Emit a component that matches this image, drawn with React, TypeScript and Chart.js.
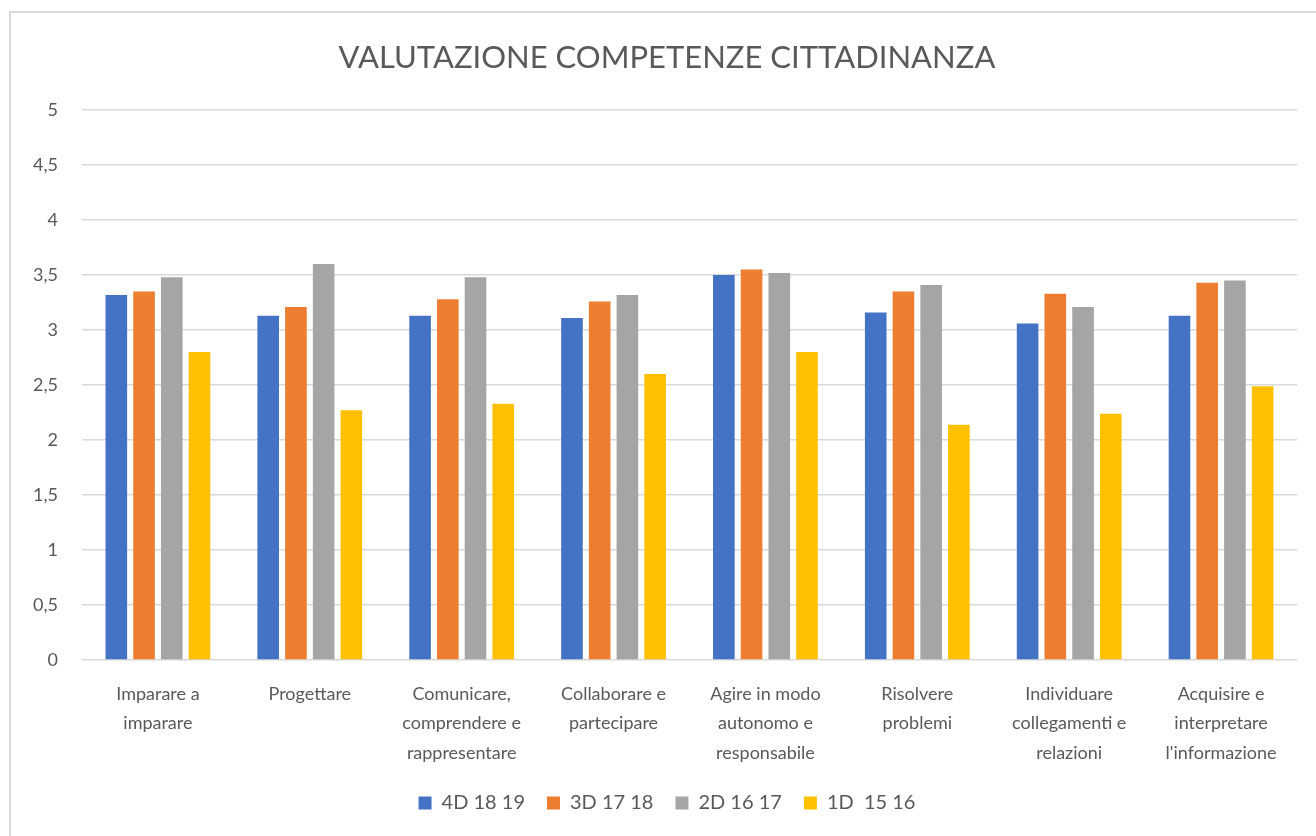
import React, { useEffect, useRef } from "react";
import { Chart, registerables } from "chart.js";

Chart.register(...registerables);

const categories: string[][] = [
  ["Imparare a", "imparare"],
  ["Progettare"],
  ["Comunicare,", "comprendere e", "rappresentare"],
  ["Collaborare e", "partecipare"],
  ["Agire in modo", "autonomo e", "responsabile"],
  ["Risolvere", "problemi"],
  ["Individuare", "collegamenti e", "relazioni"],
  ["Acquisire e", "interpretare", "l'informazione"],
];

const seriesNames = ["4D 18 19", "3D 17 18", "2D 16 17", "1D  15 16"];
const s4D = [3.32, 3.13, 3.13, 3.11, 3.5, 3.16, 3.06, 3.13];
const s3D = [3.35, 3.21, 3.28, 3.26, 3.55, 3.35, 3.33, 3.43];
const s2D = [3.48, 3.6, 3.48, 3.32, 3.52, 3.41, 3.21, 3.45];
const s1D = [2.8, 2.27, 2.33, 2.6, 2.8, 2.14, 2.24, 2.49];
const colors = ["#4472C4", "#ED7D31", "#A5A5A5", "#FFC000"];

export default function App() {
  const ref = useRef<HTMLCanvasElement>(null);
  useEffect(() => {
    if (!ref.current) return;
    const values = [s4D, s3D, s2D, s1D];
    const font = "Lato, 'Open Sans', sans-serif";
    const chart = new Chart(ref.current, {
      type: "bar",
      data: {
        labels: categories,
        datasets: values.map((v, i) => ({
          label: seriesNames[i],
          data: v,
          backgroundColor: colors[i],
          borderWidth: 0,
          categoryPercentage: 0.73,
          barPercentage: 0.78,
        })),
      },
      options: {
        animation: false,
        responsive: true,
        maintainAspectRatio: false,
        layout: { padding: { left: 5, right: 19, top: 20, bottom: 13 } },
        plugins: {
          title: {
            display: true,
            text: "VALUTAZIONE COMPETENZE CITTADINANZA",
            color: "#595959",
            font: { family: font, size: 31, weight: "normal" },
            padding: { top: 7, bottom: 34 },
          },
          legend: {
            position: "bottom",
            labels: {
              color: "#595959",
              font: { family: font, size: 20 },
              boxWidth: 13,
              boxHeight: 13,
              padding: 22,
            },
          },
          tooltip: { enabled: false },
        },
        scales: {
          x: {
            grid: { display: false },
            border: { display: false },
            afterFit: (s: any) => {
              s.height -= 8;
            },
            ticks: {
              color: "#595959",
              font: { family: font, size: 18, lineHeight: 1.65 },
              maxRotation: 0,
              autoSkip: false,
              padding: 11,
            },
          },
          y: {
            min: 0,
            max: 5,
            grid: { color: "#D9D9D9", lineWidth: 1.5, drawTicks: false },
            border: { display: false },
            ticks: {
              stepSize: 0.5,
              color: "#595959",
              font: { family: font, size: 18 },
              padding: 24,
              callback: (v: any) => String(v).replace(".", ","),
            },
          },
          yRightSpace: {
            position: "right",
            display: true,
            grid: { display: false, drawOnChartArea: false },
            border: { display: false },
            ticks: { display: false },
            afterFit: (s: any) => {
              s.width = 28;
            },
          },
        },
      },
    });
    return () => chart.destroy();
  }, []);
  return (
    <div
      style={{
        position: "fixed",
        left: 0,
        top: 0,
        width: 1316,
        height: 836,
        background: "#fff",
        overflow: "hidden",
      }}
    >
      <div
        style={{
          position: "absolute",
          left: 9,
          top: 11,
          width: 1320,
          height: 840,
          border: "2.5px solid #D9D9D9",
        }}
      />
      <div style={{ position: "absolute", left: 4, top: 12, width: 1340, height: 824 }}>
        <canvas ref={ref} />
      </div>
    </div>
  );
}
